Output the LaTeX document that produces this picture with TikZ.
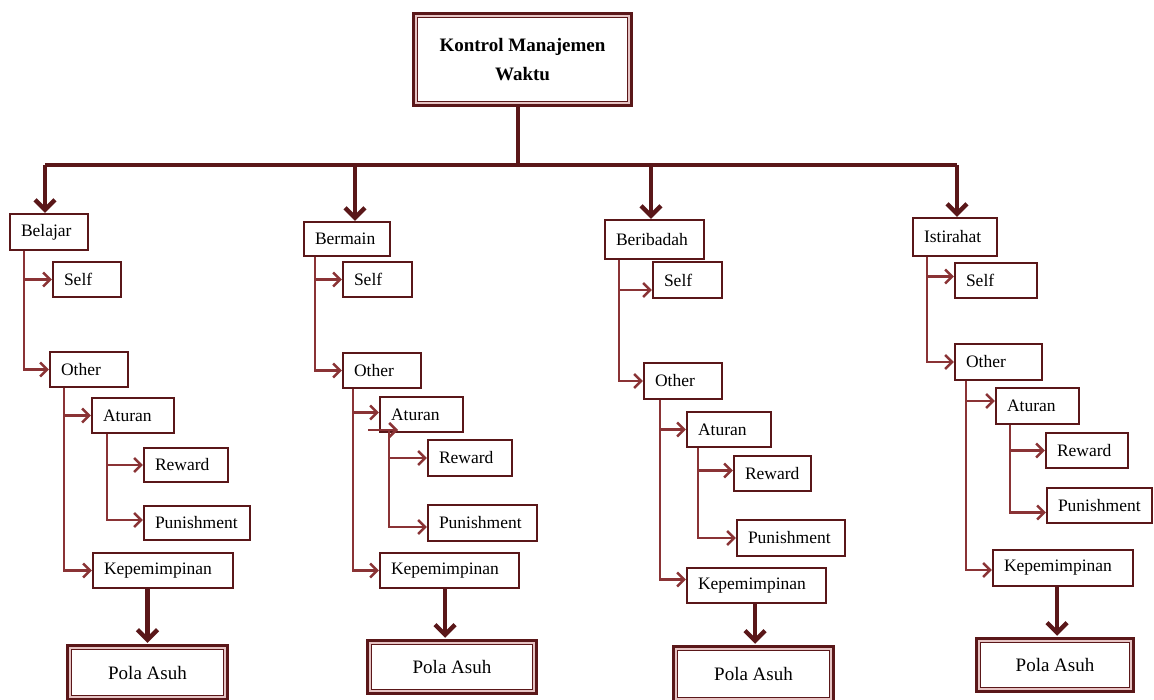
\documentclass[tikz,border=0pt]{standalone}
\usepackage{fontspec}
\setmainfont{Liberation Serif}
\usetikzlibrary{arrows.meta}
\definecolor{maroon}{HTML}{5A1719}
\definecolor{conncol}{HTML}{8A3335}
\definecolor{pinkband}{HTML}{E6C4C4}
\tikzset{
  x=1pt,y=1pt,
  bx/.style={draw=maroon, line width=2.2pt, fill=white, font=\fontsize{17.5}{20}\selectfont, inner xsep=11pt, inner ysep=0pt, align=left},
  dblbox/.style={draw=maroon, line width=5.5pt, fill=white, inner sep=0pt, align=center},
  conn/.style={draw=conncol, line width=2.5pt, -{Straight Barb[length=7pt,width=14pt]}},
  mainline/.style={draw=maroon, line width=4.4pt},
  mainarr/.style={mainline, -{Straight Barb[length=10pt,width=20pt]}},
}
% [opts]{name}{x1}{y1}{x2}{y2}{text}
\newcommand\boxat[7][]{%
  \pgfmathsetmacro\mybw{#5-#3}\pgfmathsetmacro\mybh{#6-#4}%
  \pgfmathsetmacro\mycx{(#3+#5)/2}\pgfmathsetmacro\mycy{-(#4+#6)/2}%
  \pgfmathsetmacro\mytw{\mybw-22}%
  \node[bx,#1,minimum width=\mybw pt,minimum height=\mybh pt,text width=\mytw pt] (#2) at (\mycx,\mycy) {#7};}
% double box: {name}{x1}{y1}{x2}{y2}{font}{text}  (outer edges)
\newcommand\dblat[7]{%
  \pgfmathsetmacro\mybw{#4-#2-5}\pgfmathsetmacro\mybh{#5-#3-5}%
  \pgfmathsetmacro\mycx{(#2+#4)/2}\pgfmathsetmacro\mycy{-(#3+#5)/2}%
  \node[dblbox,minimum width=\mybw pt,minimum height=\mybh pt,font=#6] (#1) at (\mycx,\mycy) {#7};
  \draw[pinkband, line width=1.8pt] ([shift={(4pt,-4pt)}]#1.north west) rectangle ([shift={(-4pt,4pt)}]#1.south east);
  \draw[maroon, line width=1.2pt] ([shift={(5.8pt,-5.8pt)}]#1.north west) rectangle ([shift={(-5.8pt,5.8pt)}]#1.south east);}
\begin{document}
\begin{tikzpicture}
\useasboundingbox (0,0) rectangle (1154,-700);
\fill[white] (0,0) rectangle (1154,-700);

% top
\dblat{top}{412}{12}{633}{107}{\fontsize{19}{29}\selectfont\bfseries}{Kontrol Manajemen\\Waktu}
\coordinate (hub) at (518,-165);

% column 1
\boxat{B1}{10}{214}{88}{250}{Belajar}
\boxat{S1}{53}{262}{121}{297}{Self}
\boxat{O1}{50}{352}{128}{387}{Other}
\boxat{A1}{92}{398}{174}{433}{Aturan}
\boxat{R1}{144}{448}{228}{482}{Reward}
\boxat{P1}{144}{506}{250}{540}{Punishment}
\boxat{K1}{93}{553}{233}{588}{Kepemimpinan}
\dblat{Q1}{66}{644}{229}{701}{\fontsize{19}{20}\selectfont}{Pola Asuh}

% column 2
\boxat{B2}{304}{222}{390}{256}{Bermain}
\boxat{S2}{343}{262}{412}{297}{Self}
\boxat{O2}{343}{353}{421}{388}{Other}
\boxat{A2}{380}{397}{463}{432}{Aturan}
\boxat{R2}{428}{440}{512}{476}{Reward}
\boxat{P2}{428}{505}{537}{541}{Punishment}
\boxat{K2}{380}{553}{519}{588}{Kepemimpinan}
\dblat{Q2}{366}{639}{538}{695}{\fontsize{19}{20}\selectfont}{Pola Asuh}

% column 3
\boxat{B3}{605}{220}{704}{259}{Beribadah}
\boxat{S3}{653}{262}{722}{298}{Self}
\boxat{O3}{644}{363}{722}{399}{Other}
\boxat{A3}{687}{412}{771}{447}{Aturan}
\boxat{R3}{734}{456}{811}{491}{Reward}
\boxat{P3}{737}{520}{845}{556}{Punishment}
\boxat{K3}{687}{568}{826}{603}{Kepemimpinan}
\dblat{Q3}{672}{645}{835}{703}{\fontsize{19}{20}\selectfont}{Pola Asuh}

% column 4
\boxat{B4}{913}{218}{997}{256}{Istirahat}
\boxat{S4}{955}{263}{1037}{298}{Self}
\boxat{O4}{955}{344}{1042}{380}{Other}
\boxat{A4}{996}{388}{1079}{424}{Aturan}
\boxat{R4}{1046}{433}{1128}{468}{Reward}
\boxat{P4}{1047}{488}{1152}{523}{Punishment}
\boxat{K4}{993}{550}{1133}{586}{Kepemimpinan}
\dblat{Q4}{975}{637}{1135}{693}{\fontsize{19}{20}\selectfont}{Pola Asuh}

% main connectors
\draw[mainline] (top.south -| hub) -- (hub);
\draw[mainline] ([xshift=-4pt]B1.north |- hub) -- ([xshift=2pt]B4.north |- hub);
\draw[mainarr] ([xshift=-4pt]B1.north |- hub) -- ([xshift=-4pt]B1.north);
\draw[mainarr] ([xshift=8pt]B2.north |- hub) -- ([xshift=8pt]B2.north);
\draw[mainarr] ([xshift=-3.5pt]B3.north |- hub) -- ([xshift=-3.5pt]B3.north);
\draw[mainarr] ([xshift=2pt]B4.north |- hub) -- ([xshift=2pt]B4.north);

% column 1 connectors
\draw[conn] ([xshift=15pt]B1.south west) |- (S1.west);
\draw[conn] ([xshift=15pt]B1.south west) |- (O1.west);
\draw[conn] ([xshift=15pt]O1.south west) |- (A1.west);
\draw[conn] ([xshift=15pt]O1.south west) |- (K1.west);
\draw[conn] ([xshift=16pt]A1.south west) |- (R1.west);
\draw[conn] ([xshift=16pt]A1.south west) |- ([yshift=3pt]P1.west);
\draw[mainarr, shorten >=1pt] (K1.south -| Q1.north) -- (Q1.north);

% column 2 connectors
\draw[conn] ([xshift=12pt]B2.south west) |- (S2.west);
\draw[conn] ([xshift=12pt]B2.south west) |- (O2.west);
\draw[conn] ([xshift=11pt]O2.south west) |- ([yshift=2pt]A2.west);
\draw[conn] ([xshift=11pt]O2.south west) |- (K2.west);
\coordinate (s2a) at (368,-430);
\coordinate (s2b) at (398,-430);
\draw[conn] (s2a) -- (s2b);
\draw[conn] ([xshift=10pt,yshift=2pt]A2.south west) |- (R2.west);
\draw[conn] ([xshift=10pt,yshift=2pt]A2.south west) |- ([yshift=-4pt]P2.west);
\draw[mainarr, shorten >=1pt] ([xshift=-7pt]K2.south -| Q2.north) -- ([xshift=-7pt]Q2.north);

% column 3 connectors
\draw[conn] ([xshift=15pt]B3.south west) |- ([yshift=-10pt]S3.west);
\draw[conn] ([xshift=15pt]B3.south west) |- (O3.west);
\draw[conn] ([xshift=17pt]O3.south west) |- (A3.west);
\draw[conn] ([xshift=17pt]O3.south west) |- ([yshift=6pt]K3.west);
\draw[conn] ([xshift=12pt]A3.south west) |- ([yshift=3pt]R3.west);
\draw[conn] ([xshift=12pt]A3.south west) |- (P3.west);
\draw[mainarr, shorten >=1pt] ([xshift=1.5pt]K3.south -| Q3.north) -- ([xshift=1.5pt]Q3.north);

% column 4 connectors
\draw[conn] ([xshift=15pt]B4.south west) |- ([yshift=4pt]S4.west);
\draw[conn] ([xshift=15pt]B4.south west) |- (O4.west);
\draw[conn] ([xshift=12pt]O4.south west) |- ([yshift=5pt]A4.west);
\draw[conn] ([xshift=12pt]O4.south west) |- ([yshift=-2pt]K4.west);
\draw[conn] ([xshift=15pt]A4.south west) |- (R4.west);
\draw[conn] ([xshift=15pt]A4.south west) |- ([yshift=-7pt]P4.west);
\draw[mainarr, shorten >=1pt] ([xshift=2pt]K4.south -| Q4.north) -- ([xshift=2pt]Q4.north);
\end{tikzpicture}
\end{document}
